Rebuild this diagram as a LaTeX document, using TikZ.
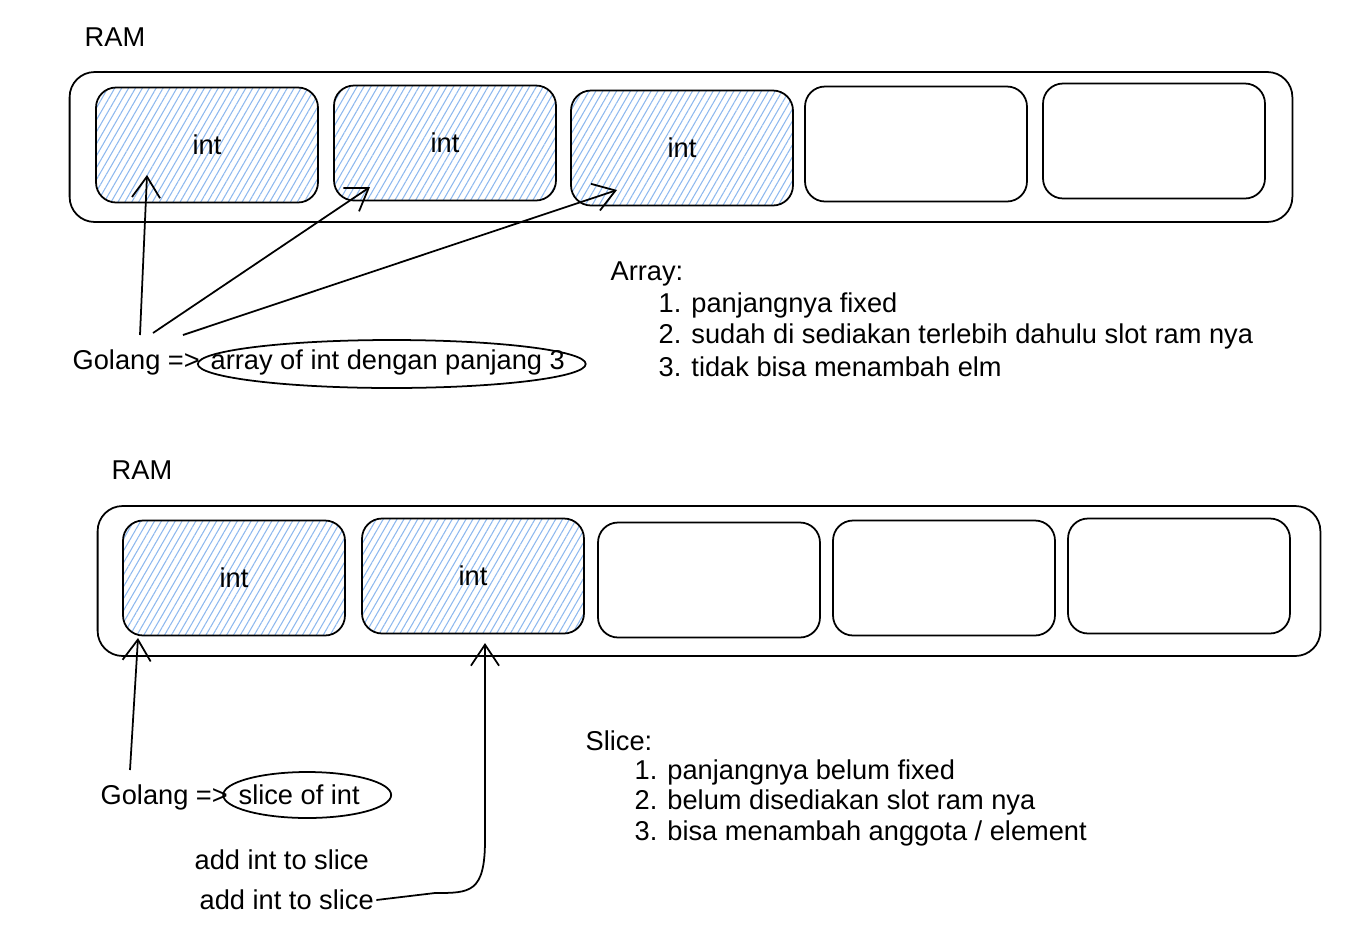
\documentclass[tikz,border=0pt]{standalone}
\usepackage{fontspec}
\setmainfont{Liberation Sans}
\usetikzlibrary{arrows.meta}
\usetikzlibrary{positioning,patterns.meta}
\definecolor{hatchblue}{HTML}{8DB8EE}

\begin{document}
\begin{tikzpicture}[%
        x=0.02cm, y=-0.02cm,
        every node/.style={font=\fontsize{15.5}{18}\selectfont, inner sep=1pt},
        txt/.style={anchor=west},
        ram/.style={draw, rounded corners=0.5cm, minimum width=24.46cm, minimum height=3cm},
        cell/.style={draw, rounded corners=0.4cm, minimum width=4.44cm, minimum height=2.3cm},
        used/.style={cell, pattern={Lines[angle=60, distance=3.4pt, line width=0.6pt]}, pattern color=hatchblue},
        line width=1pt, >={Straight Barb[length=12pt,width=16pt]}
      ]
      \useasboundingbox (0,0) rectangle (1370,944);
      % array
      \node (ram1) at (115,37) {RAM};
      \node [ram] (mem1) at (681,147) {};
      \node [used] (a1) at (207,145) {int};
      \node [used] (a2) at (445,143) {int};
      \node [used] (a3) at (682,148) {int};
      \node [cell] (a4) at (916,144) {};
      \node [cell] (a5) at (1154,141) {};
      \node [txt] (go1) at (70,362) {Golang =>};
      \node [txt] (arr) at (208,362) {array of int dengan panjang 3};
      \draw ([shift={(4,2)}]arr.center) ellipse [x radius=3.88cm, y radius=0.48cm];
      \path [draw] ([shift={(70,-27)}]go1.west) edge[->] ([shift={(-60,30)}]a1.center)
      ([shift={(83,-29)}]go1.west) edge[->] ([shift={(-75,44)}]a2.center)
      ([shift={(113,-27)}]go1.west) edge[->] ([shift={(-65,42)}]a3.center);
      \node [txt] (arrh) at (608,274) {Array:};
      \node [txt] (arr1) at (656,305) {1. panjangnya fixed};
      \node [txt] (arr2) at (656,336) {2. sudah di sediakan terlebih dahulu slot ram nya};
      \node [txt] (arr3) at (656,367) {3. tidak bisa menambah elm};
      % slice
      \node (ram2) at (142,470) {RAM};
      \node [ram] (mem2) at (709,581) {};
      \node [used] (b1) at (234,578) {int};
      \node [used] (b2) at (473,576) {int};
      \node [cell] (b3) at (709,580) {};
      \node [cell] (b4) at (944,578) {};
      \node [cell] (b5) at (1179,576) {};
      \node [txt] (go2) at (98,797) {Golang =>};
      \node [txt] (sl) at (236,795) {slice of int};
      \draw ([shift={(8,0)}]sl.center) ellipse [x radius=1.68cm, y radius=0.46cm];
      \draw [->] ([shift={(32,-27)}]go2.west) -- ([shift={(-96,60)}]b1.center);
      \node [txt] (add1) at (192,860) {add int to slice};
      \node [txt] (add2) at (197,900) {add int to slice};
      \coordinate (tip) at ([shift={(12,67)}]b2.center);
      \draw [<-] (tip) -- (485,840) .. controls (485,893) and (470,893) .. (435,893) -- (add2.east);
      \node [txt] (slh) at (583,741) {Slice:};
      \node [txt] (sl1) at (632,772) {1. panjangnya belum fixed};
      \node [txt] (sl2) at (632,802) {2. belum disediakan slot ram nya};
      \node [txt] (sl3) at (632,833) {3. bisa menambah anggota / element};
    \end{tikzpicture}
\end{document}
